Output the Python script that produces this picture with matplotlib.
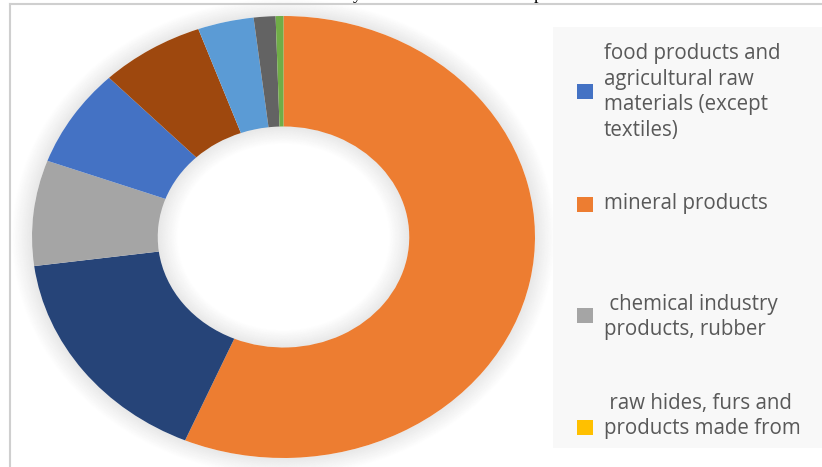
import matplotlib.pyplot as plt
from matplotlib.patches import Rectangle, Wedge
from matplotlib.lines import Line2D

# slice values (percent), clockwise from 12 o'clock
slice_values = [56.4, 16.5, 7.7, 7.2, 6.7, 3.6, 1.4, 0.5]
slice_colors = ["#ED7D31", "#264478", "#A5A5A5", "#4472C4",
                "#9E480E", "#5B9BD5", "#636363", "#70AD47"]

# legend entries (only the visible part of the legend)
legend_labels = [
    "food products and\nagricultural raw\nmaterials (except\ntextiles)",
    "mineral products",
    " chemical industry\nproducts, rubber",
    " raw hides, furs and\nproducts made from",
]
legend_colors = ["#4472C4", "#ED7D31", "#A5A5A5", "#FFC000"]

W, H = 822, 467
fig = plt.figure(figsize=(W / 100, H / 100), dpi=100)
fig.patch.set_facecolor("white")

def fx(px):
    return px / W

def fy(py):
    return 1 - py / H

# chart-area frame (only top and left edges are inside the picture)
fig.add_artist(Line2D([fx(10), fx(10)], [fy(4), 0], color="#cfcfcf", lw=1.5))
fig.add_artist(Line2D([fx(10), 1], [fy(4), fy(4)], color="#cfcfcf", lw=1.5))

# bottom of the cut-off title line
fig.text(fx(357), fy(-1), "y", fontsize=13, family="Liberation Serif",
         ha="center", va="baseline", color="black")
fig.text(fx(538), fy(-1), "p", fontsize=13, family="Liberation Serif",
         ha="center", va="baseline", color="black")

# donut (stretched horizontally like the original)
ax = fig.add_axes([fx(32), fy(458), fx(535) - fx(32), fy(16) - fy(458)])
N = 16
step = 0.005
for k in range(N):
    a = 0.09 * (1 - k / N)
    # outer glow
    ax.add_patch(Wedge((0, 0), 1.0 + step * (k + 1), 0, 360, width=step,
                       color="black", alpha=a, lw=0, clip_on=False, zorder=0))
    # inner shadow of the hole
    ax.add_patch(Wedge((0, 0), 0.5 - step * k, 0, 360, width=step,
                       color="black", alpha=a, lw=0, zorder=4))
ax.pie(slice_values, colors=slice_colors, startangle=90, counterclock=False,
       radius=1.0, wedgeprops=dict(width=0.5, edgecolor="none"))
ax.set_aspect("auto")
ax.set_xlim(-1, 1)
ax.set_ylim(-1, 1)
ax.axis("off")

# legend box
lax = fig.add_axes([fx(553), fy(448), 1 - fx(553), fy(27) - fy(448)])
lax.set_facecolor("#f8f8f8")
for s in lax.spines.values():
    s.set_visible(False)
lax.set_xticks([])
lax.set_yticks([])
lax.set_xlim(553, 822)
lax.set_ylim(448, 27)

marker_y = [91, 204, 315, 427]
text_y = [92, 203, 317, 416]
line_step = 25.7
for lab, col, my, ty in zip(legend_labels, legend_colors, marker_y, text_y):
    lax.add_patch(Rectangle((577, my - 7.5), 16, 15, color=col, lw=0))
    lines = lab.split("\n")
    n = len(lines)
    for k, ln in enumerate(lines):
        yl = ty + (k - (n - 1) / 2) * line_step
        lax.text(604, yl + 5.5, ln, fontsize=14.8, family="Open Sans",
                 color="#595959", ha="left", va="baseline", clip_on=True)

fig.savefig("out.png", dpi=100)
